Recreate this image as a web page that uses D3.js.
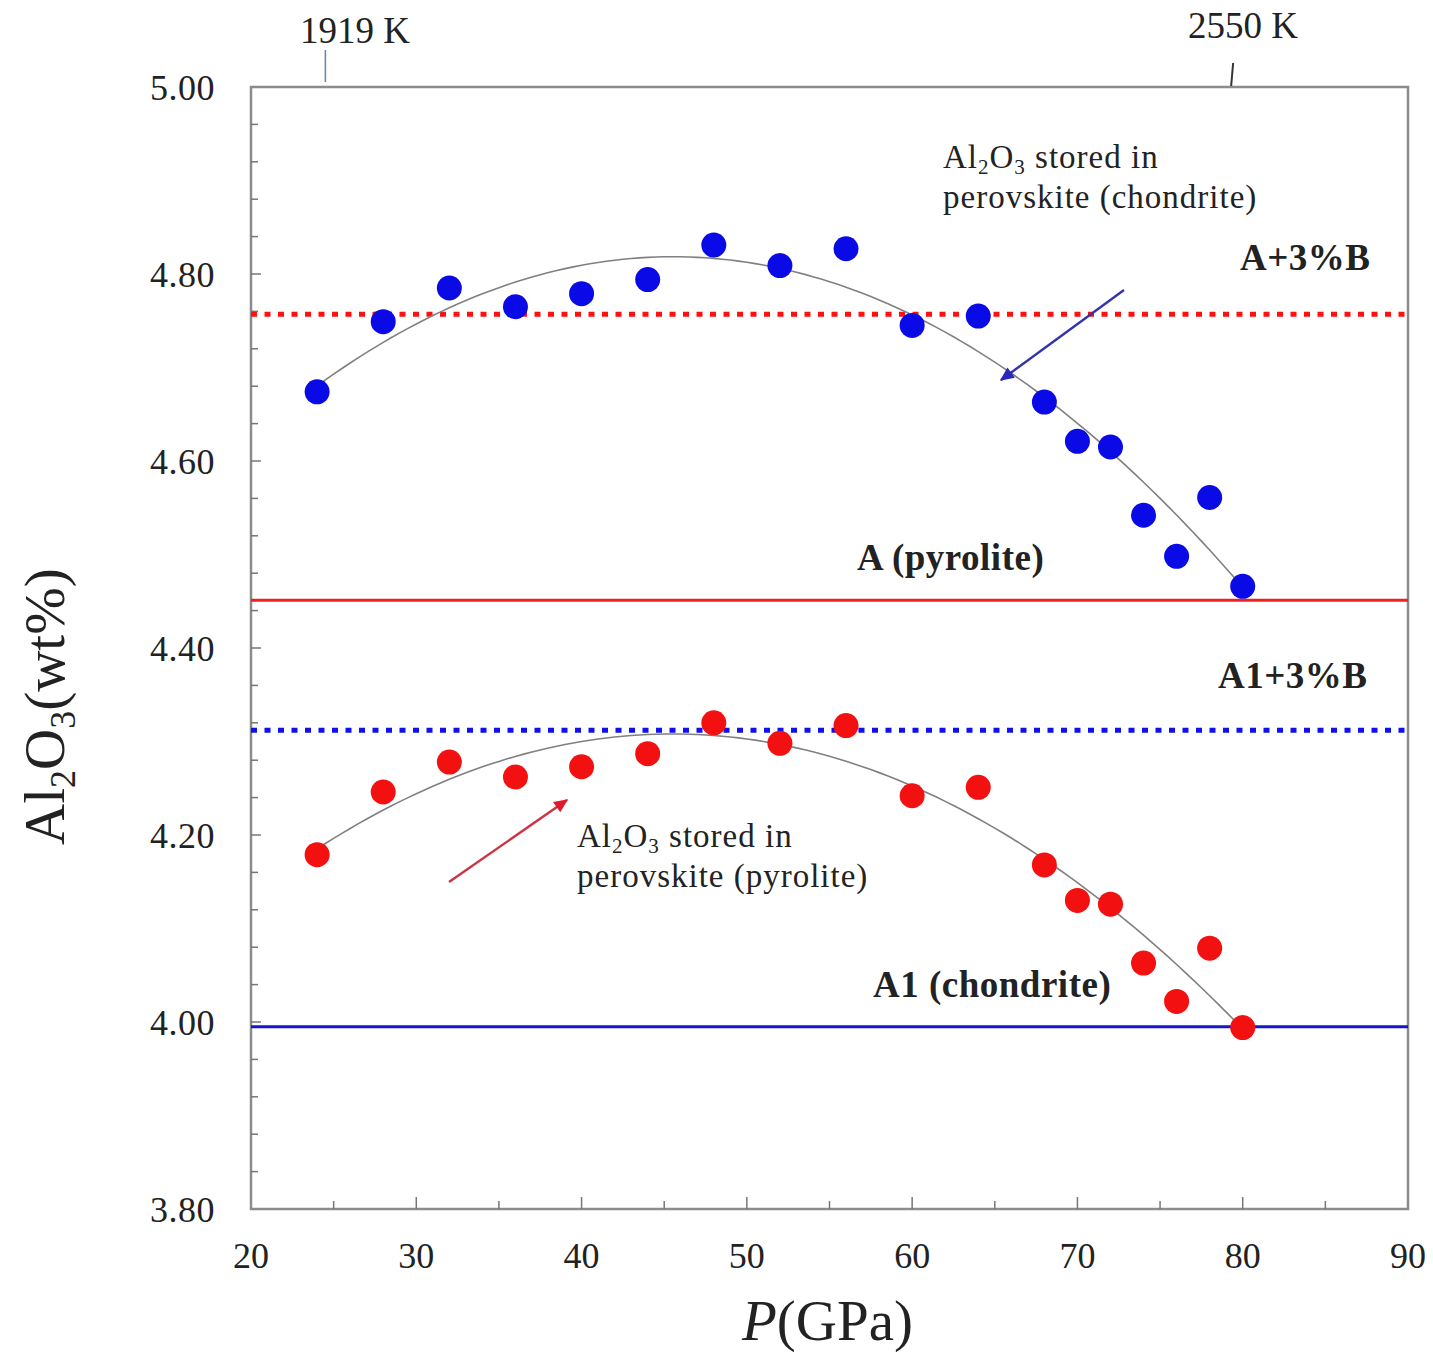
<!DOCTYPE html>
<html><head><meta charset="utf-8">
<script src="https://cdn.jsdelivr.net/npm/d3@7"></script>
<style>
html,body{margin:0;padding:0;background:#fff;}
svg{display:block;}
text{font-family:"Liberation Serif","Times New Roman",serif;fill:#222;}
</style></head>
<body>
<script>
// ---------- data ----------
const pressure = [24,28,32,36,40,44,48,52,56,60,64,68,70,72,74,76,78,80];
const chondriteAl = [4.674,4.749,4.785,4.765,4.779,4.794,4.831,4.809,4.827,4.745,4.755,4.663,4.621,4.615,4.542,4.498,4.561,4.466];
const pyroliteAl  = [4.179,4.246,4.278,4.262,4.273,4.287,4.320,4.298,4.317,4.242,4.251,4.168,4.130,4.126,4.063,4.022,4.079,3.994];
const refLevels = [
  {name:"A+3%B", value:4.757, color:"#ff1010", dotted:true},
  {name:"A (pyrolite)", value:4.451, color:"#ee2020", dotted:false},
  {name:"A1+3%B", value:4.312, color:"#1010ee", dotted:true},
  {name:"A1 (chondrite)", value:3.995, color:"#1515cc", dotted:false}
];
const xTicks = [20,30,40,50,60,70,80,90];
const yTicks = [3.80,4.00,4.20,4.40,4.60,4.80,5.00];
const tempMarks = [{label:"1919 K", p:24.5},{label:"2550 K", p:79.3}];

// ---------- layout ----------
const W=1433,H=1356;
const L=251,R=1408,T=87,B=1209;
const svg=d3.select("body").append("svg").attr("width",W).attr("height",H);
const x=d3.scaleLinear().domain([20,90]).range([L,R]);
const y=d3.scaleLinear().domain([3.8,5.0]).range([B,T]);

// quadratic least-squares fit
function quadFit(xs,ys){
  let n=xs.length,S=[0,0,0,0,0],Sy=[0,0,0];
  for(let i=0;i<n;i++){const xv=xs[i];let p=1;for(let k=0;k<5;k++){S[k]+=p;if(k<3)Sy[k]+=p*ys[i];p*=xv;}}
  const M=[[S[0],S[1],S[2],Sy[0]],[S[1],S[2],S[3],Sy[1]],[S[2],S[3],S[4],Sy[2]]];
  for(let i=0;i<3;i++){for(let j=i+1;j<3;j++){const f=M[j][i]/M[i][i];for(let k=i;k<4;k++)M[j][k]-=f*M[i][k];}}
  const c=[0,0,0];
  for(let i=2;i>=0;i--){let s=M[i][3];for(let k=i+1;k<3;k++)s-=M[i][k]*c[k];c[i]=s/M[i][i];}
  return v=>c[0]+c[1]*v+c[2]*v*v;
}

// frame
svg.append("rect").attr("x",L).attr("y",T).attr("width",R-L).attr("height",B-T)
  .attr("fill","none").attr("stroke","#8c8c8c").attr("stroke-width",2.5);

// ticks (inward)
const gx=svg.append("g");
d3.range(25,90,5).forEach(v=>{
  const major=v%10===0;
  gx.append("line").attr("x1",x(v)).attr("x2",x(v)).attr("y1",B).attr("y2",B-(major?12:8))
    .attr("stroke","#777").attr("stroke-width",1.5);
});
svg.selectAll(".xl").data(xTicks).join("text").attr("x",d=>x(d)).attr("y",1268)
  .attr("text-anchor","middle").attr("font-size",36).text(d=>d);

const gy=svg.append("g");
d3.range(0,31).forEach(i=>{
  const v=3.8+i*0.04;
  if(i===0||i===30) return;
  const major=i%5===0;
  gy.append("line").attr("x1",L).attr("x2",L+(major?10:7)).attr("y1",y(v)).attr("y2",y(v))
    .attr("stroke","#777").attr("stroke-width",1.5);
});
svg.selectAll(".yl").data(yTicks).join("text").attr("x",215).attr("y",d=>y(d)).attr("dy","0.35em")
  .attr("text-anchor","end").attr("font-size",36).attr("letter-spacing",0.5).text(d=>d.toFixed(2));

// reference levels
svg.selectAll(".ref").data(refLevels).join("line")
  .attr("x1",L).attr("x2",R).attr("y1",d=>y(d.value)).attr("y2",d=>y(d.value))
  .attr("stroke",d=>d.color).attr("stroke-width",d=>d.dotted?5:3)
  .attr("stroke-dasharray",d=>d.dotted?"6,7.5":null);

// fit curves
const line=d3.line().x(d=>x(d[0])).y(d=>y(d[1]));
[chondriteAl,pyroliteAl].forEach(ys=>{
  const f=quadFit(pressure,ys);
  const pts=d3.range(24,80.01,0.5).map(v=>[v,f(v)]);
  svg.append("path").attr("d",line(pts)).attr("fill","none").attr("stroke","#808080").attr("stroke-width",1.6);
});

// points
svg.selectAll(".cb").data(pressure).join("circle").attr("cx",d=>x(d)).attr("cy",(d,i)=>y(chondriteAl[i]))
  .attr("r",12.5).attr("fill","#0a0ae6");
svg.selectAll(".pr").data(pressure).join("circle").attr("cx",d=>x(d)).attr("cy",(d,i)=>y(pyroliteAl[i]))
  .attr("r",12.5).attr("fill","#f21010");

// level labels
const lbl=[
  {t:"A+3%B",x:1240,y:270},{t:"A (pyrolite)",x:857,y:570},
  {t:"A1+3%B",x:1218,y:688},{t:"A1 (chondrite)",x:873,y:997}
];
svg.selectAll(".lb").data(lbl).join("text").attr("x",d=>d.x).attr("y",d=>d.y)
  .attr("font-size",37).attr("font-weight","bold").attr("letter-spacing",0.5).text(d=>d.t);

// annotations
function annot(x0,y0,second){
  const t=svg.append("text").attr("x",x0).attr("y",y0).attr("font-size",33).attr("letter-spacing",1).attr("fill","#333");
  t.append("tspan").text("Al");
  t.append("tspan").attr("font-size",21).attr("dy",6).text("2");
  t.append("tspan").attr("dy",-6).text("O");
  t.append("tspan").attr("font-size",21).attr("dy",6).text("3");
  t.append("tspan").attr("dy",-6).text(" stored in");
  svg.append("text").attr("x",x0).attr("y",y0+40).attr("font-size",33).attr("letter-spacing",1).attr("fill","#333").text(second);
}
annot(943,168,"perovskite (chondrite)");
annot(577,847,"perovskite (pyrolite)");

// arrows
const defs=svg.append("defs");
[["ab","#2a2ab8"],["ar","#e01a2a"]].forEach(([id,c])=>{
  defs.append("marker").attr("id",id).attr("viewBox","0 0 10 10").attr("refX",9).attr("refY",5)
    .attr("markerWidth",16).attr("markerHeight",14).attr("orient","auto").attr("markerUnits","userSpaceOnUse")
    .append("path").attr("d","M0,0.5 L10,5 L0,9.5 z").attr("fill",c);
});
svg.append("line").attr("x1",1124).attr("y1",290).attr("x2",1001).attr("y2",380)
  .attr("stroke","#3333aa").attr("stroke-width",2.4).attr("marker-end","url(#ab)");
svg.append("line").attr("x1",449).attr("y1",882).attr("x2",567).attr("y2",800)
  .attr("stroke","#cc3344").attr("stroke-width",2.4).attr("marker-end","url(#ar)");

// temperature marks
svg.append("line").attr("x1",x(tempMarks[0].p)).attr("x2",x(tempMarks[0].p)).attr("y1",50).attr("y2",82)
  .attr("stroke","#6f86b0").attr("stroke-width",1.6);
svg.append("line").attr("x1",x(tempMarks[1].p)+2).attr("x2",x(tempMarks[1].p)).attr("y1",63).attr("y2",86)
  .attr("stroke","#333").attr("stroke-width",2);
svg.append("text").attr("x",300).attr("y",43).attr("font-size",37).text(tempMarks[0].label);
svg.append("text").attr("x",1188).attr("y",38).attr("font-size",37).text(tempMarks[1].label);

// axis titles
const yl=svg.append("text").attr("transform","translate(64,845) rotate(-90)").attr("font-size",57).attr("fill","#111");
yl.append("tspan").text("Al");
yl.append("tspan").attr("font-size",36).attr("dy",11).text("2");
yl.append("tspan").attr("dy",-11).text("O");
yl.append("tspan").attr("font-size",36).attr("dy",11).text("3");
yl.append("tspan").attr("dy",-11).text("(wt%)");

const xl=svg.append("text").attr("x",742).attr("y",1340).attr("font-size",57).attr("fill","#111");
xl.append("tspan").attr("font-style","italic").text("P");
xl.append("tspan").text("(GPa)");
</script>
</body></html>
